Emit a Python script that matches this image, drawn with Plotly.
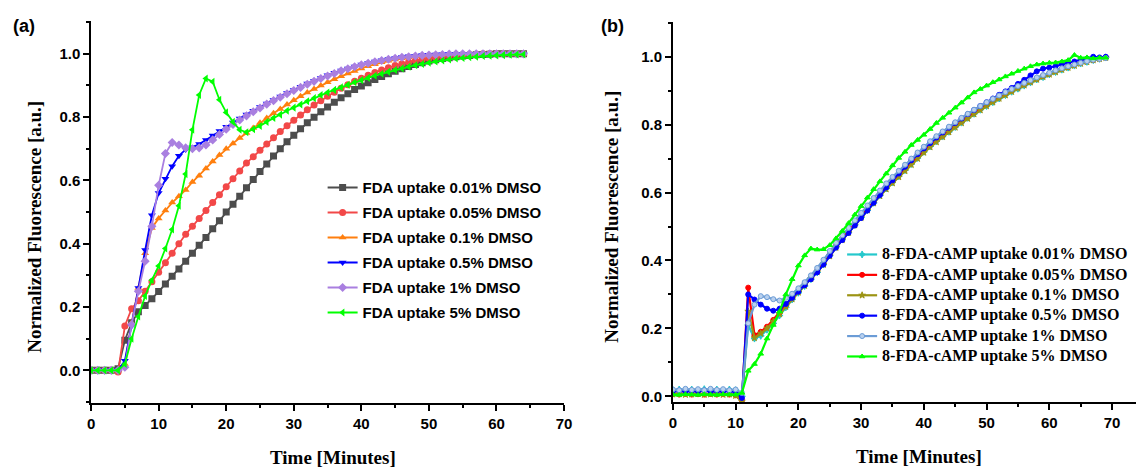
import plotly.graph_objects as go

# ---------------- Panel (a) data ----------------
time_a = list(range(0, 65))
fda_001 = [0.0, 0.0, 0.0, 0.0, 0.005, 0.095, 0.15, 0.185, 0.205, 0.226,
           0.249, 0.273, 0.297, 0.32, 0.345, 0.37, 0.395, 0.42, 0.447, 0.473,
           0.50, 0.525, 0.55, 0.577, 0.603, 0.628, 0.652, 0.677, 0.70, 0.722,
           0.743, 0.763, 0.782, 0.80, 0.817, 0.832, 0.847, 0.861, 0.874, 0.887,
           0.898, 0.909, 0.919, 0.928, 0.937, 0.945, 0.953, 0.96, 0.966, 0.972,
           0.977, 0.981, 0.985, 0.988, 0.991, 0.993, 0.995, 0.997, 0.998, 0.999,
           1.0, 1.0, 1.0, 1.0, 1.0]
fda_005 = [0.0, 0.0, 0.0, 0.0, -0.005, 0.14, 0.195, 0.22, 0.25, 0.28,
           0.31, 0.34, 0.37, 0.40, 0.43, 0.455, 0.48, 0.505, 0.53, 0.555,
           0.58, 0.605, 0.63, 0.655, 0.675, 0.695, 0.715, 0.735, 0.755, 0.773,
           0.79, 0.807, 0.823, 0.838, 0.852, 0.866, 0.879, 0.891, 0.902, 0.913,
           0.923, 0.932, 0.941, 0.949, 0.956, 0.963, 0.969, 0.974, 0.979, 0.983,
           0.986, 0.989, 0.992, 0.994, 0.996, 0.997, 0.998, 0.999, 1.0, 1.0,
           1.0, 1.0, 1.0, 1.0, 1.0]
fda_01 = [0.0, 0.0, 0.0, 0.0, 0.0, 0.02, 0.15, 0.26, 0.37, 0.45,
          0.48, 0.505, 0.53, 0.55, 0.57, 0.595, 0.615, 0.638, 0.66, 0.68,
          0.70, 0.717, 0.734, 0.75, 0.766, 0.782, 0.797, 0.812, 0.826, 0.84,
          0.853, 0.866, 0.878, 0.889, 0.90, 0.91, 0.92, 0.929, 0.938, 0.946,
          0.954, 0.961, 0.967, 0.973, 0.978, 0.982, 0.986, 0.989, 0.992, 0.994,
          0.996, 0.997, 0.998, 0.999, 1.0, 1.0, 1.0, 1.0, 1.0, 1.0,
          1.0, 1.0, 1.0, 1.0, 1.0]
fda_05 = [0.0, 0.0, 0.0, 0.0, 0.0, 0.03, 0.14, 0.26, 0.38, 0.49,
          0.56, 0.605, 0.645, 0.678, 0.698, 0.705, 0.715, 0.728, 0.742, 0.756,
          0.77, 0.783, 0.796, 0.808, 0.82, 0.832, 0.843, 0.854, 0.865, 0.876,
          0.886, 0.896, 0.906, 0.915, 0.924, 0.932, 0.94, 0.947, 0.954, 0.96,
          0.966, 0.971, 0.976, 0.98, 0.984, 0.987, 0.99, 0.992, 0.994, 0.996,
          0.997, 0.998, 0.999, 1.0, 1.0, 1.0, 1.0, 1.0, 1.0, 1.0,
          1.0, 1.0, 1.0, 1.0, 1.0]
fda_1 = [0.0, 0.0, 0.0, 0.0, 0.0, 0.01, 0.145, 0.25, 0.345, 0.455,
         0.585, 0.685, 0.72, 0.712, 0.703, 0.70, 0.703, 0.712, 0.728, 0.745,
         0.762, 0.777, 0.791, 0.804, 0.817, 0.829, 0.841, 0.852, 0.863, 0.874,
         0.884, 0.894, 0.904, 0.913, 0.922, 0.93, 0.938, 0.946, 0.953, 0.959,
         0.965, 0.97, 0.975, 0.979, 0.983, 0.986, 0.989, 0.991, 0.993, 0.995,
         0.996, 0.997, 0.998, 0.999, 1.0, 1.0, 1.0, 1.0, 1.0, 1.0,
         1.0, 1.0, 1.0, 1.0, 1.0]
fda_5 = [0.0, 0.0, 0.0, 0.0, 0.0, 0.02, 0.10, 0.17, 0.235, 0.285,
         0.33, 0.385, 0.445, 0.52, 0.62, 0.76, 0.87, 0.922, 0.912, 0.855,
         0.815, 0.785, 0.76, 0.752, 0.762, 0.772, 0.785, 0.797, 0.808, 0.82,
         0.83, 0.84, 0.85, 0.86, 0.87, 0.878, 0.886, 0.894, 0.902, 0.91,
         0.917, 0.924, 0.931, 0.937, 0.943, 0.949, 0.954, 0.959, 0.964, 0.968,
         0.972, 0.976, 0.979, 0.982, 0.985, 0.987, 0.989, 0.991, 0.993, 0.994,
         0.995, 0.996, 0.997, 0.998, 0.998]

names_a = ["FDA uptake 0.01% DMSO", "FDA uptake 0.05% DMSO", "FDA uptake 0.1% DMSO",
           "FDA uptake 0.5% DMSO", "FDA uptake 1% DMSO", "FDA uptake 5% DMSO"]

# ---------------- Panel (b) data ----------------
time_b = list(range(0, 70))
camp_001 = [0.018, 0.02, 0.016, 0.02, 0.017, 0.021, 0.016, 0.02, 0.017, 0.02, 0.018,
            0.0, 0.21, 0.17, 0.178, 0.196, 0.215, 0.238, 0.262, 0.285,
            0.305, 0.325, 0.345, 0.365, 0.388, 0.415, 0.44, 0.462, 0.483, 0.505,
            0.527, 0.548, 0.57, 0.592, 0.612, 0.63, 0.648, 0.666, 0.684, 0.702,
            0.72, 0.736, 0.751, 0.765, 0.779, 0.793, 0.806, 0.82, 0.832, 0.844,
            0.855, 0.866, 0.877, 0.887, 0.897, 0.906, 0.915, 0.924, 0.933, 0.94,
            0.948, 0.955, 0.962, 0.968, 0.974, 0.98, 0.985, 0.99, 0.994, 0.998]
camp_005 = [0.006, 0.005, 0.007, 0.005, 0.006, 0.005, 0.007, 0.005, 0.006, 0.005, 0.003,
            -0.012, 0.32, 0.18, 0.19, 0.205, 0.225, 0.246, 0.268, 0.29,
            0.31, 0.33, 0.35, 0.37, 0.392, 0.418, 0.443, 0.466, 0.487, 0.509,
            0.531, 0.553, 0.575, 0.597, 0.616, 0.634, 0.652, 0.67, 0.688, 0.706,
            0.724, 0.74, 0.755, 0.769, 0.783, 0.797, 0.81, 0.823, 0.836, 0.848,
            0.859, 0.87, 0.881, 0.891, 0.901, 0.91, 0.919, 0.928, 0.936, 0.944,
            0.951, 0.958, 0.965, 0.971, 0.977, 0.982, 0.987, 0.991, 0.995, 0.998]
camp_01 = [0.006, 0.007, 0.005, 0.006, 0.007, 0.005, 0.006, 0.007, 0.005, 0.006, 0.002,
           -0.015, 0.25, 0.172, 0.185, 0.2, 0.22, 0.242, 0.264, 0.286,
           0.306, 0.326, 0.346, 0.366, 0.388, 0.413, 0.438, 0.461, 0.482, 0.504,
           0.526, 0.548, 0.569, 0.59, 0.61, 0.628, 0.646, 0.664, 0.682, 0.70,
           0.718, 0.734, 0.749, 0.764, 0.778, 0.792, 0.805, 0.818, 0.831, 0.843,
           0.855, 0.866, 0.877, 0.887, 0.897, 0.907, 0.916, 0.925, 0.933, 0.941,
           0.948, 0.955, 0.962, 0.968, 0.974, 0.98, 0.985, 0.99, 0.994, 0.997]
camp_05 = [0.015, 0.017, 0.014, 0.016, 0.015, 0.017, 0.014, 0.016, 0.015, 0.016, 0.012,
           -0.005, 0.30, 0.285, 0.27, 0.258, 0.252, 0.258, 0.272, 0.29,
           0.308, 0.327, 0.345, 0.365, 0.388, 0.414, 0.438, 0.46, 0.481, 0.503,
           0.525, 0.547, 0.57, 0.593, 0.615, 0.636, 0.656, 0.676, 0.695, 0.713,
           0.73, 0.746, 0.762, 0.777, 0.791, 0.805, 0.818, 0.831, 0.843, 0.855,
           0.866, 0.877, 0.888, 0.898, 0.908, 0.92, 0.932, 0.945, 0.957, 0.965,
           0.968, 0.972, 0.978, 0.982, 0.986, 0.99, 0.994, 1.0, 0.998, 1.0]
camp_1 = [0.02, 0.018, 0.022, 0.019, 0.021, 0.018, 0.022, 0.019, 0.021, 0.018, 0.02,
          0.01, 0.215, 0.27, 0.295, 0.292, 0.286, 0.282, 0.29, 0.302,
          0.318, 0.336, 0.356, 0.378, 0.402, 0.428, 0.452, 0.474, 0.496, 0.518,
          0.54, 0.562, 0.584, 0.606, 0.627, 0.646, 0.664, 0.682, 0.70, 0.718,
          0.735, 0.751, 0.766, 0.78, 0.794, 0.807, 0.82, 0.832, 0.844, 0.855,
          0.866, 0.876, 0.886, 0.896, 0.905, 0.914, 0.923, 0.931, 0.939, 0.946,
          0.953, 0.96, 0.966, 0.972, 0.977, 0.982, 0.987, 0.991, 0.994, 0.996]
camp_5 = [0.005, 0.004, 0.006, 0.005, 0.004, 0.006, 0.005, 0.004, 0.006, 0.005, 0.005,
          0.01, 0.075, 0.095, 0.125, 0.17, 0.21, 0.25, 0.30, 0.345,
          0.385, 0.415, 0.435, 0.432, 0.433, 0.445, 0.465, 0.487, 0.51, 0.535,
          0.56, 0.585, 0.61, 0.633, 0.656, 0.68, 0.702, 0.72, 0.74, 0.755,
          0.77, 0.787, 0.805, 0.82, 0.835, 0.85, 0.865, 0.88, 0.895, 0.905,
          0.915, 0.925, 0.933, 0.942, 0.95, 0.958, 0.965, 0.972, 0.977, 0.98,
          0.982, 0.983, 0.986, 0.99, 1.005, 0.997, 0.998, 0.995, 0.997, 0.997]

names_b = ["8-FDA-cAMP uptake 0.01% DMSO", "8-FDA-cAMP uptake 0.05% DMSO",
           "8-FDA-cAMP uptake 0.1% DMSO", "8-FDA-cAMP uptake 0.5% DMSO",
           "8-FDA-cAMP uptake 1% DMSO", "8-FDA-cAMP uptake 5% DMSO"]

# ---------------- styles ----------------
W, H = 1144, 468
SANS = "Liberation Sans, Arial, sans-serif"
SERIF = "Liberation Serif, Times New Roman, serif"

styles_a = [("#4d4d4d", "square"), ("#f24848", "circle"), ("#ff7f0e", "triangle-up"),
            ("#0000ff", "triangle-down"), ("#a97fe0", "diamond"), ("#00ff00", "triangle-left")]
styles_b = [("#25c8cc", "star-diamond", "#25c8cc"), ("#ff0000", "circle", "#ff0000"),
            ("#9c9414", "star", "#9c9414"), ("#0000ff", "circle", "#0000ff"),
            ("#6b9cd6", "circle", "#b9d0ee"), ("#00ff00", "triangle-up", "#00ff00")]

fig = go.Figure()

series_a = [fda_001, fda_005, fda_01, fda_05, fda_1, fda_5]
for i, (vals, name, (col, sym)) in enumerate(zip(series_a, names_a, styles_a)):
    fig.add_trace(go.Scatter(
        x=time_a, y=vals, mode="lines+markers", name="<b>" + name + "</b>",
        line=dict(color=col, width=1.8),
        marker=dict(symbol=sym, size=7, color=col, line=dict(width=0)),
        xaxis="x", yaxis="y", legend="legend", legendgroup="a%d" % i))

series_b = [camp_001, camp_005, camp_01, camp_05, camp_1, camp_5]
for i, (vals, name, (col, sym, fill)) in enumerate(zip(series_b, names_b, styles_b)):
    fig.add_trace(go.Scatter(
        x=time_b, y=vals, mode="lines+markers",
        name='<span style="font-size:16px"><b>' + name + "</b></span>",
        line=dict(color=col, width=2.2),
        marker=dict(symbol=sym, size=5, color=fill, line=dict(width=1, color=col)),
        xaxis="x2", yaxis="y2", legend="legend2", legendgroup="b%d" % i))

ax_common = dict(showgrid=False, zeroline=False, showline=True, linecolor="black",
                 linewidth=1.6, ticks="outside", ticklen=6, tickwidth=1.6,
                 tickcolor="black",
                 tickfont=dict(family=SANS, size=15, color="black", weight="bold"))

dom_a_x = [88 / W, 566 / W]
dom_b_x = [676 / W, 1.0]
dom_a_y = [1 - 405 / H, 1 - 21 / H]
dom_b_y = [1 - 404 / H, 1 - 22 / H]
yr_a = [-0.104, 1.104]
yr_b = [-0.0176, 1.1026]
xr_a = [0, 70]
xr_b = [0, (1144 - 676) / 6.34]

fig.update_layout(
    width=W, height=H, margin=dict(l=0, r=0, t=0, b=0),
    paper_bgcolor="white", plot_bgcolor="white",
    xaxis=dict(ax_common, domain=dom_a_x, range=xr_a, dtick=10, anchor="y",
               minor=dict(ticks="outside", ticklen=3, dtick=5, tickwidth=1.6, tickcolor="black")),
    yaxis=dict(ax_common, domain=dom_a_y, range=yr_a, dtick=0.2, tickformat=".1f", anchor="x",
               minor=dict(ticks="outside", ticklen=3, dtick=0.1, tickwidth=1.6, tickcolor="black")),
    xaxis2=dict(ax_common, domain=dom_b_x, range=xr_b, tickvals=[0, 10, 20, 30, 40, 50, 60, 70],
                anchor="y2",
                minor=dict(ticks="outside", ticklen=3, tickvals=[5, 15, 25, 35, 45, 55, 65],
                           tickwidth=1.6, tickcolor="black")),
    yaxis2=dict(ax_common, domain=dom_b_y, range=yr_b, dtick=0.2, tickformat=".1f", anchor="x2",
                minor=dict(ticks="outside", ticklen=3, dtick=0.1, tickwidth=1.6, tickcolor="black")),
    # mirrored frame with inward ticks
    xaxis3=dict(showgrid=False, zeroline=False, showline=True, linecolor="black", linewidth=1.6,
                overlaying="x", side="top", anchor="y", range=xr_a, dtick=10,
                ticks="inside", ticklen=6, tickwidth=1.6, tickcolor="black", showticklabels=False,
                minor=dict(ticks="inside", ticklen=3, dtick=5, tickwidth=1.6, tickcolor="black")),
    yaxis3=dict(showgrid=False, zeroline=False, showline=True, linecolor="black", linewidth=1.6,
                overlaying="y", side="right", anchor="x", range=yr_a, dtick=0.2,
                ticks="inside", ticklen=6, tickwidth=1.6, tickcolor="black", showticklabels=False,
                minor=dict(ticks="inside", ticklen=3, dtick=0.1, tickwidth=1.6, tickcolor="black")),
    xaxis4=dict(showgrid=False, zeroline=False, showline=True, linecolor="black", linewidth=1.6,
                overlaying="x2", side="top", anchor="y2", range=xr_b,
                tickvals=[0, 10, 20, 30, 40, 50, 60, 70],
                ticks="inside", ticklen=6, tickwidth=1.6, tickcolor="black", showticklabels=False,
                minor=dict(ticks="inside", ticklen=3, tickvals=[5, 15, 25, 35, 45, 55, 65],
                           tickwidth=1.6, tickcolor="black")),
    legend=dict(x=322 / W, y=1 - 172 / H, xanchor="left", yanchor="top",
                bgcolor="rgba(0,0,0,0)", tracegroupgap=2.5,
                font=dict(family=SANS, size=15, color="black")),
    legend2=dict(x=847 / W, y=1 - 241 / H, xanchor="left", yanchor="top",
                 bgcolor="rgba(0,0,0,0)", tracegroupgap=1.4,
                 font=dict(family=SERIF, size=12, color="black")),
    showlegend=True,
)

ann = []
ann.append(dict(text="<b>(a)</b>", x=20 / W, y=1 - 26 / H))
ann.append(dict(text="<b>(b)</b>", x=615 / W, y=1 - 26 / H))
for a in ann:
    a["font"] = dict(family=SANS, size=18, color="black")
for xc, yc in [(30, 228), (614, 218)]:
    ann.append(dict(text="<b>Normalized Fluorescence [a.u.]</b>", x=xc / W, y=1 - yc / H,
                    textangle=-90, font=dict(family=SERIF, size=19, color="black")))
for xc, yc in [(332, 459), (925, 458)]:
    ann.append(dict(text="<b>Time [Minutes]</b>", x=xc / W, y=1 - yc / H,
                    font=dict(family=SERIF, size=19, color="black")))
for a in ann:
    a.update(xref="paper", yref="paper", showarrow=False, xanchor="center", yanchor="middle")
fig.update_layout(annotations=ann)

fig.write_html("out.html")
